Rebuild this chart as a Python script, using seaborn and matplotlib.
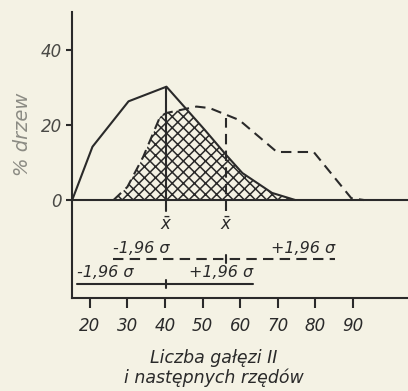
import numpy as np
import pandas as pd
import matplotlib
matplotlib.use("Agg")
import matplotlib.pyplot as plt
import seaborn as sns

# ---- data ----
x_solid = [15.3, 20.7, 30.3, 40.4, 50.5, 56.3, 60.6, 68.5, 74.7]
y_solid = [0, 14.2, 26.3, 30.2, 18.8, 12.0, 7.2, 1.9, 0]
x_dash = [26.3, 30.0, 34.2, 38.7, 40.4, 48.4, 51.9, 59.8, 69.8, 79.6, 89.6, 93.0]
y_dash = [0, 3.5, 11.5, 22.2, 23.2, 24.9, 24.5, 21.3, 12.8, 12.8, 0.5, 0]
means = [40.4, 56.3]                 # x-bar of solid / dashed
sigma_low = [16.5, 26.2]             # mean - 1.96 sigma
sigma_high = [63.5, 85.2]            # mean + 1.96 sigma
x_ticks = [20, 30, 40, 50, 60, 70, 80, 90]
y_ticks = [0, 20, 40]
sigma_minus = "-1,96 σ"
sigma_plus = "+1,96 σ"
xlabel = "Liczba gałęzi II\ni następnych rzędów"
ylabel = "% drzew"

sns.set_theme(style="white")
plt.rcParams["font.family"] = ["DejaVu Sans"]
plt.rcParams["hatch.linewidth"] = 1.1
plt.rcParams["mathtext.fontset"] = "dejavusans"

BG = "#f4f2e4"
INK = "#2a2a2a"

fig = plt.figure(figsize=(4.08, 3.91), dpi=100, facecolor=BG)
ax = fig.add_axes([72 / 408, 93 / 391, 336 / 408, 286 / 391])
ax.set_facecolor(BG)

df_s = pd.DataFrame({"x": x_solid, "y": y_solid})
df_d = pd.DataFrame({"x": x_dash, "y": y_dash})

# hatched overlap region: area under min of the two curves
grid = np.linspace(min(x_dash), max(x_solid), 400)
low = np.minimum(np.interp(grid, x_solid, y_solid, left=0, right=0),
                 np.interp(grid, x_dash, y_dash, left=0, right=0))
ax.fill_between(grid, 0, low, facecolor="none", edgecolor=INK,
                hatch="xxx", linewidth=0, zorder=1)

sns.lineplot(data=df_s, x="x", y="y", ax=ax, color=INK, lw=1.5,
             sort=False, estimator=None, zorder=3)
sns.lineplot(data=df_d, x="x", y="y", ax=ax, color=INK, lw=1.5,
             sort=False, estimator=None, zorder=3, dashes=False)
ax.lines[-1].set_dashes([5, 3])

# zero line
ax.axhline(0, color=INK, lw=1.5, zorder=2)

# mean verticals
y_top_solid = np.interp(means[0], x_solid, y_solid)
y_top_dash = np.interp(means[1], x_dash, y_dash) - 0.8
ax.plot([means[0], means[0]], [-2.8, y_top_solid], color=INK, lw=1.5, zorder=3)
ax.plot([means[1], means[1]], [-3.0, y_top_dash], color=INK, lw=1.5,
        dashes=[5, 3], zorder=3)

# x-bar labels
for m in means:
    ax.text(m, -6.6, r"$\bar{x}$", ha="center", va="center", fontsize=12,
            color=INK)

# 1.96 sigma ranges
y_dash_rng, y_solid_rng = -15.8, -22.4
ax.plot([sigma_low[1], sigma_high[1]], [y_dash_rng, y_dash_rng], color=INK,
        lw=1.5, dashes=[5, 3])
ax.plot([means[1], means[1]], [y_dash_rng - 1.1, y_dash_rng + 1.1], color=INK, lw=1.5)
ax.plot([sigma_low[0], sigma_high[0]], [y_solid_rng, y_solid_rng], color=INK, lw=1.5)
ax.plot([means[0], means[0]], [y_solid_rng - 1.1, y_solid_rng + 1.1], color=INK, lw=1.5)

tkw = dict(fontsize=11.5, style="italic", color=INK, va="center")
ax.text(sigma_low[1], y_dash_rng + 3.0, sigma_minus, ha="left", **tkw)
ax.text(sigma_high[1], y_dash_rng + 3.0, sigma_plus, ha="right", **tkw)
ax.text(sigma_low[0], y_solid_rng + 3.2, sigma_minus, ha="left", **tkw)
ax.text(sigma_high[0], y_solid_rng + 3.2, sigma_plus, ha="right", **tkw)

# axes
ax.set_xlim(15.25, 104.7)
ax.set_ylim(-26.1, 50.1)
for s in ["top", "right"]:
    ax.spines[s].set_visible(False)
for s in ["left", "bottom"]:
    ax.spines[s].set_color(INK)
    ax.spines[s].set_linewidth(1.5)

ax.set_xticks(x_ticks)
ax.set_xticklabels([str(v) for v in x_ticks], fontsize=12, style="italic",
                   color=INK)
ax.set_yticks(y_ticks)
ax.set_yticklabels([str(v) for v in y_ticks], fontsize=12, style="italic",
                   color="#4a4a46")
ax.tick_params(axis="x", direction="out", length=7, width=1.5, color=INK,
               pad=7, bottom=True)
ax.tick_params(axis="y", direction="out", length=4, width=1.5, color=INK,
               pad=3, left=True)

ax.set_xlabel("")
ax.set_ylabel("")
fig.text(214 / 408, 1 - 368 / 391, xlabel, ha="center", va="center",
         fontsize=12.5, style="italic", color=INK, linespacing=1.15)
fig.text(22 / 408, 1 - 134 / 391, ylabel, ha="center", va="center",
         rotation=90, fontsize=14, style="italic", color="#8c8c84")

fig.savefig("out.png", dpi=100, facecolor=BG)
